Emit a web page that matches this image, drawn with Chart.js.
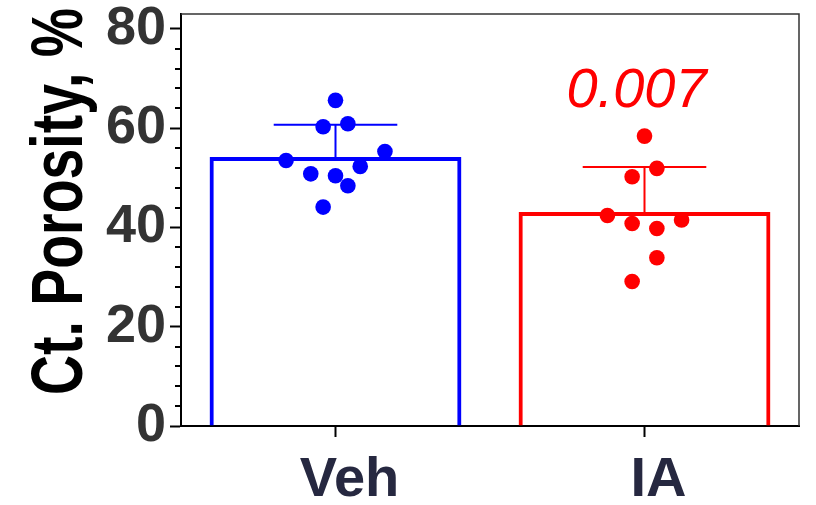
<!DOCTYPE html>
<html><head><meta charset="utf-8">
<script src="https://cdn.jsdelivr.net/npm/chart.js@4/dist/chart.umd.min.js"></script>
<style>html,body{margin:0;padding:0;background:#fff;}#wrap{width:816px;height:505px;}</style>
</head><body><div id="wrap"><canvas id="c" width="816" height="505"></canvas></div>
<script>
const categories = ['Veh', 'IA'];
const barMeans = [54.2, 43.1];
const barSD = [6.5, 9.1];
const vehValues = [65.6, 60.3, 60.9, 55.3, 53.5, 52.3, 50.8, 50.4, 48.4, 44.1];
const vehJitter = [0, -0.04, 0.04, 0.16, -0.16, 0.08, -0.08, 0, 0.04, -0.04];
const iaValues = [58.4, 51.9, 50.2, 42.4, 40.8, 41.5, 39.8, 33.9, 29.1];
const iaJitter = [0, 0.04, -0.04, -0.12, -0.04, 0.12, 0.04, 0.04, -0.04];
const pValueLabels = ['', '0.007'];
const yTicks = [0, 20, 40, 60, 80];
const yMinorStep = 4;
const yTitle = 'Ct. Porosity, %';
const colors = ['#0000ff', '#ff0000'];

const FONT = '"Liberation Sans", Arial, Helvetica, sans-serif';

const framePlugin = {
  id: 'frame',
  afterDraw(chart) {
    const {ctx, chartArea: a} = chart;
    ctx.save();
    ctx.strokeStyle = '#333';
    ctx.lineWidth = 1.5;
    ctx.beginPath();
    ctx.moveTo(a.left, a.top);
    ctx.lineTo(a.right, a.top);
    ctx.lineTo(a.right, a.bottom);
    ctx.stroke();
    // minor ticks
    const y = chart.scales.y;
    ctx.strokeStyle = '#000';
    ctx.lineWidth = 2;
    y.ticks.forEach(t => {
      if (!yTicks.includes(t.value)) {
        const py = Math.round(y.getPixelForValue(t.value));
        ctx.beginPath();
        ctx.moveTo(a.left - 6, py);
        ctx.lineTo(a.left, py);
        ctx.stroke();
      }
    });
    // y axis title (condensed bold, rotated)
    ctx.save();
    ctx.translate(82, 201.5);
    ctx.rotate(-Math.PI / 2);
    ctx.scale(0.77, 1);
    ctx.font = 'bold 72px ' + FONT;
    ctx.fillStyle = '#000';
    ctx.textAlign = 'center';
    ctx.textBaseline = 'alphabetic';
    ctx.fillText(yTitle, 0, 0);
    ctx.restore();
    ctx.restore();
  }
};

const errorPlugin = {
  id: 'errbars',
  beforeDatasetsDraw(chart) {
    const {ctx} = chart;
    const xs = chart.scales.x, y = chart.scales.y;
    const catW = xs.width / categories.length;
    ctx.save();
    ctx.lineWidth = 2;
    categories.forEach((c, i) => {
      const px = xs.getPixelForValue(i);
      const yM = y.getPixelForValue(barMeans[i]);
      const yT = y.getPixelForValue(barMeans[i] + barSD[i]);
      ctx.strokeStyle = colors[i];
      ctx.beginPath();
      ctx.moveTo(px, yM);
      ctx.lineTo(px, yT);
      ctx.moveTo(px - catW * 0.2, yT);
      ctx.lineTo(px + catW * 0.2, yT);
      ctx.stroke();
    });
    ctx.restore();
  },
  afterDatasetsDraw(chart) {
    const {ctx} = chart;
    const xs = chart.scales.x, y = chart.scales.y;
    ctx.save();
    ctx.font = 'italic 56px ' + FONT;
    ctx.textAlign = 'center';
    ctx.textBaseline = 'alphabetic';
    categories.forEach((c, i) => {
      if (!pValueLabels[i]) return;
      const px = xs.getPixelForValue(i);
      const yT = y.getPixelForValue(barMeans[i] + barSD[i]);
      ctx.fillStyle = colors[i];
      ctx.fillText(pValueLabels[i], px - 8, yT - 60);
    });
    ctx.restore();
  }
};

new Chart(document.getElementById('c'), {
  type: 'bar',
  data: {
    labels: categories,
    datasets: [
      {
        type: 'bar',
        data: barMeans,
        backgroundColor: 'rgba(0,0,0,0)',
        borderColor: colors,
        borderWidth: 4,
        barPercentage: 0.815,
        categoryPercentage: 1,
        grouped: false,
        xAxisID: 'x', yAxisID: 'y',
        order: 2
      },
      {
        type: 'scatter',
        data: vehValues.map((v, i) => ({x: 0 + vehJitter[i], y: v})),
        backgroundColor: colors[0],
        borderWidth: 0,
        pointRadius: 7.8,
        xAxisID: 'xs', yAxisID: 'y',
        order: 0
      },
      {
        type: 'scatter',
        data: iaValues.map((v, i) => ({x: 1 + iaJitter[i], y: v})),
        backgroundColor: colors[1],
        borderWidth: 0,
        pointRadius: 7.8,
        xAxisID: 'xs', yAxisID: 'y',
        order: 0
      }
    ]
  },
  options: {
    responsive: false,
    animation: false,
    devicePixelRatio: 1,
    layout: {padding: {top: 14, right: 17, left: 0, bottom: 0}},
    plugins: {legend: {display: false}, tooltip: {enabled: false}},
    scales: {
      x: {
        type: 'category',
        offset: true,
        grid: {display: true, drawOnChartArea: false, offset: false, tickLength: 11, tickWidth: 2, tickColor: '#000'},
        border: {display: true, color: '#000', width: 2},
        ticks: {font: {family: FONT, size: 56, weight: 'bold'}, color: '#262840', padding: 10, maxRotation: 0, labelOffset: 14},
        afterFit(s) { s.height = 79; s.paddingLeft = 0; s.paddingRight = 0; }
      },
      xs: {type: 'linear', min: -0.5, max: 1.5, offset: false, display: false},
      y: {
        min: 0, max: 83,
        ticks: {
          stepSize: yMinorStep, includeBounds: false, autoSkip: false,
          callback: v => yTicks.includes(v) ? String(v) : '',
          font: {family: FONT, size: 54, weight: 'bold'}, color: '#333', padding: 4
        },
        grid: {drawOnChartArea: false, tickLength: 11, tickWidth: 2,
          tickColor: c => (c.tick && yTicks.includes(c.tick.value)) ? '#000' : 'rgba(0,0,0,0)'},
        border: {display: true, color: '#000', width: 2},
        title: {display: false},
        afterFit(s) { s.width = 181; s.paddingTop = 0; s.paddingBottom = 0; }
      }
    }
  },
  plugins: [framePlugin, errorPlugin]
});
</script></body></html>
